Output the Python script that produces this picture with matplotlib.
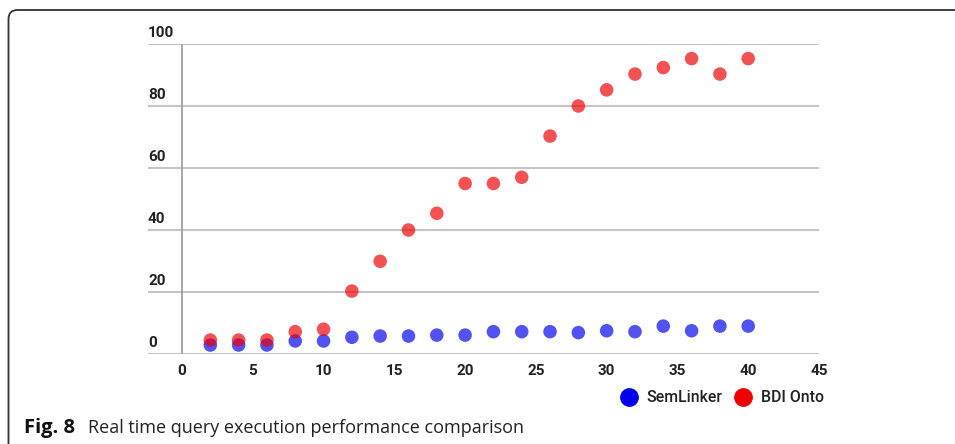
import matplotlib
matplotlib.use("Agg")
import matplotlib.pyplot as plt
from matplotlib.path import Path
from matplotlib.patches import PathPatch
from matplotlib.lines import Line2D

# ---- data ----
x_vals = [2, 4, 6, 8, 10, 12, 14, 16, 18, 20, 22, 24, 26, 28, 30, 32, 34, 36, 38, 40]
semlinker = [2.9, 2.9, 2.9, 4.2, 4.2, 5.4, 5.8, 5.8, 6.1, 6.1, 7.2, 7.2, 7.2, 6.9, 7.5, 7.2, 9.0, 7.5, 9.0, 9.0]
bdi_onto = [4.5, 4.5, 4.5, 7.2, 8.0, 20.3, 29.9, 40.0, 45.4, 55.0, 55.0, 57.0, 70.3, 80.0, 85.2, 90.3, 92.4, 95.3, 90.3, 95.3]
series_names = ["SemLinker", "BDI Onto"]
x_ticks = [0, 5, 10, 15, 20, 25, 30, 35, 40, 45]
y_ticks = [0, 20, 40, 60, 80, 100]
caption_bold = "Fig. 8"
caption_text = "Real time query execution performance comparison"

W, H = 955, 444
fig = plt.figure(figsize=(W / 100, H / 100), dpi=100)
fig.patch.set_facecolor("white")

# axes: left edge at gridline start (x=148), y-axis line at x=0 (x=182)
ax_left, ax_right = 148, 819
ax_top, ax_bot = 44, 354
ax = fig.add_axes([ax_left / W, 1 - ax_bot / H, (ax_right - ax_left) / W, (ax_bot - ax_top) / H])
px_per_unit = (ax_right - 182) / 45.0
ax.set_xlim(-(182 - ax_left) / px_per_unit, 45)
ax.set_ylim(0, 100)

for s in ax.spines.values():
    s.set_visible(False)

# gridlines
for yv in y_ticks:
    ax.axhline(yv, color="#c4c4c4", lw=1.5, zorder=1)
ax.axvline(0, color="#9a9a9a", lw=1.2, zorder=1)

blue = "#0000ee"
red = "#ee0000"
ax.scatter(x_vals, semlinker, s=95, color=blue, alpha=0.68, edgecolors="none", zorder=3)
ax.scatter(x_vals, bdi_onto, s=95, color=red, alpha=0.68, edgecolors="none", zorder=4)

tick_font = dict(family=["Roboto", "DejaVu Sans"], weight="bold", size=11, color="#222222")
ax.set_xticks(x_ticks)
ax.set_xticklabels([str(t) for t in x_ticks], **tick_font)
ax.tick_params(axis="x", length=0, pad=7)
ax.set_yticks([])
for yv in y_ticks:
    ax.annotate(str(yv), xy=(0, yv), xycoords=("axes fraction", "data"),
                xytext=(0, 3), textcoords="offset points", ha="left", va="bottom", **tick_font)

# legend
handles = [Line2D([], [], marker="o", ls="none", color=blue, markersize=12.5),
           Line2D([], [], marker="o", ls="none", color=red, markersize=12.5)]
leg = fig.legend(handles, series_names, loc="center", ncol=2, frameon=False,
                 bbox_to_anchor=(721 / W, 1 - 398 / H), handletextpad=0.4, columnspacing=0.6,
                 handlelength=1.4,
                 prop=dict(family=["Roboto", "DejaVu Sans"], weight="medium", size=11.4))
for t in leg.get_texts():
    t.set_color("#222222")

# caption
fig.text(24 / W, 1 - 428 / H, caption_bold, family=["Open Sans", "DejaVu Sans"], weight="bold",
         size=14.5, va="center", ha="left", color="#111111")
fig.text(88 / W, 1 - 428 / H, caption_text, family=["Open Sans", "DejaVu Sans"],
         size=13.0, va="center", ha="left", color="#222222")

# frame
r = 9
verts = [(8.5, 0), (8.5, H - 10 - r), (8.5, H - 10), (8.5 + r, H - 10), (W, H - 10)]
codes = [Path.MOVETO, Path.LINETO, Path.CURVE3, Path.CURVE3, Path.LINETO]
fig.add_artist(PathPatch(Path(verts, codes), transform=None, fill=False, lw=1.3, edgecolor="#333333"))

fig.savefig("out.png", dpi=100)
